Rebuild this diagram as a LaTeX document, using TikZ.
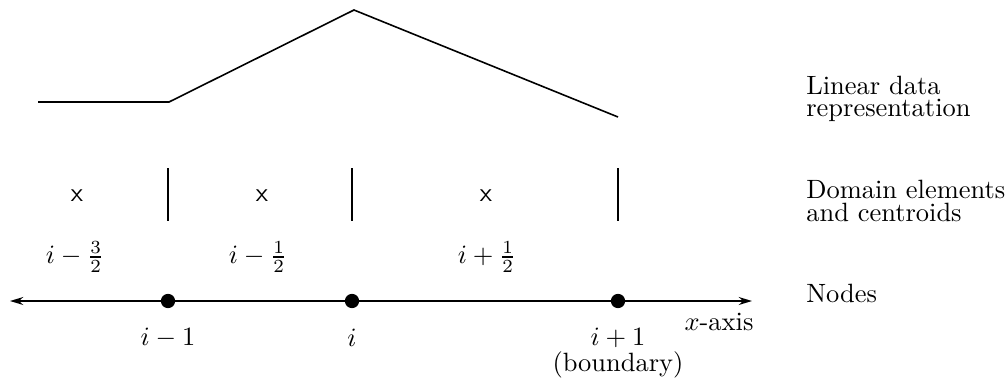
\documentclass[tikz,border=0pt]{standalone}
\usepackage{amsmath}
\usepackage{tikz}
\usetikzlibrary{arrows.meta,positioning}

\begin{document}
\begin{tikzpicture}[
    x=0.378pt, y=-0.378pt,
    dot/.style={circle, fill=black, inner sep=0pt, minimum size=5.4pt},
    cross/.style={font=\sffamily},
    side/.style={anchor=west, align=left},
    axisarr/.style={{Stealth[length=5pt,width=3pt]}-{Stealth[length=5pt,width=3pt]}, line width=0.6pt}
]
\useasboundingbox (0,0) rectangle (1008,382);
% x-axis
\coordinate (xl) at (10,301);
\coordinate (xr) at (752,301);
\draw[axisarr] (xl) -- (xr);
\node[dot] (nm) at (168,301) {};
\node[dot] (ni) at (352,301) {};
\node[dot] (np) at (618,301) {};
\node (lm) at (168,338) {$i-1$};
\node (li) at (352,338) {$i$};
\node (lp) at (618,338) {$i+1$};
\node (lb) at (618,365) {(boundary)};
\node (lx) at (719,322) {$x$-axis};
% element boundaries and centroids
\coordinate (tm) at (168,168); \coordinate (bm) at (168,221);
\coordinate (ti) at (352,168); \coordinate (bi) at (352,221);
\coordinate (tp) at (618,168); \coordinate (bp) at (618,221);
\draw[line width=0.6pt] (tm) -- (bm);
\draw[line width=0.6pt] (ti) -- (bi);
\draw[line width=0.6pt] (tp) -- (bp);
\node[cross] (c1) at (77,196) {x};
\node[cross] (c2) at (262,196) {x};
\node[cross] (c3) at (486,196) {x};
\node (f1) at (75,257) {$i-\frac{3}{2}$};
\node (f2) at (258,257) {$i-\frac{1}{2}$};
\node (f3) at (487,257) {$i+\frac{1}{2}$};
% linear data
\coordinate (d0) at (38,102);
\coordinate (d1) at (169,102);
\coordinate (d2) at (354,10);
\coordinate (d3) at (618,117);
\draw[line width=0.6pt] (d0) -- (d1) -- (d2) -- (d3);
% right column
\node[side] (tlin) at (797,99) {Linear data\\[-3.5pt]representation};
\node[side] (tdom) at (797,201) {Domain elements\\[-3.5pt]and centroids};
\node[side] (tnod) at (797,293) {Nodes};
\end{tikzpicture}
\end{document}
